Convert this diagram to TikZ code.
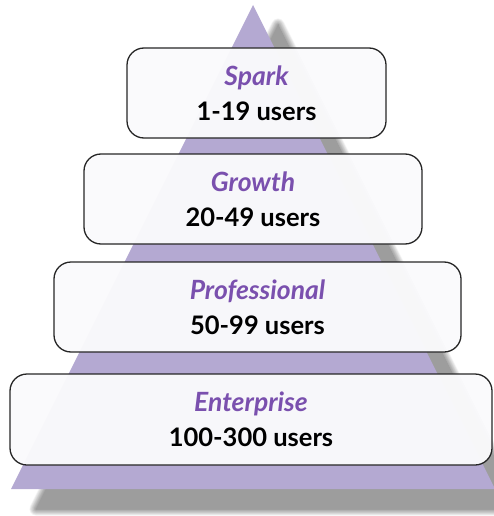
\documentclass[tikz,border=0pt]{standalone}
\usepackage{fontspec}
\setmainfont{Lato}
\definecolor{tri}{HTML}{B4A9D2}
\definecolor{tiername}{HTML}{7A50AE}
\definecolor{boxfill}{HTML}{FAFAFC}
\tikzset{
  tier/.style={draw=black!85, line width=1.3pt, rounded corners=17pt, fill=boxfill, fill opacity=0.97, text opacity=1,
    align=center, font=\fontsize{25.5}{35}\selectfont\bfseries, inner sep=0pt},
}
\newcommand{\tiername}[1]{{\color{tiername}\fontsize{26.5}{35}\selectfont\itshape #1}}
\begin{document}
\begin{tikzpicture}[x=1pt,y=-1pt]
\useasboundingbox (0,0) rectangle (493,516);
% blurred shadow
\foreach \i in {0,...,11}{
  \pgfmathsetmacro{\lw}{(11-\i)*1.2}
  \begin{scope}[transparency group, opacity=0.04]
  \filldraw[black, line width=\lw pt, line join=round]
    (278,25) -- (36,509) -- (520,509) -- cycle;
  \end{scope}
}
% triangle
\fill[tri] (253,5) -- (11,489) -- (495,489) -- cycle;
% tiers
\node[tier, minimum width=259pt, minimum height=90pt] (spark) at (256.5,93) {\tiername{Spark}\\1-19 users};
\node[tier, minimum width=338pt, minimum height=90pt] (growth) at (253,199) {\tiername{Growth}\\20-49 users};
\node[tier, minimum width=407pt, minimum height=90pt] (pro) at (257.5,307) {\tiername{Professional}\\50-99 users};
\node[tier, minimum width=482pt, minimum height=91pt] (ent) at (251,419.5) {\tiername{Enterprise}\\100-300 users};
\end{tikzpicture}
\end{document}
